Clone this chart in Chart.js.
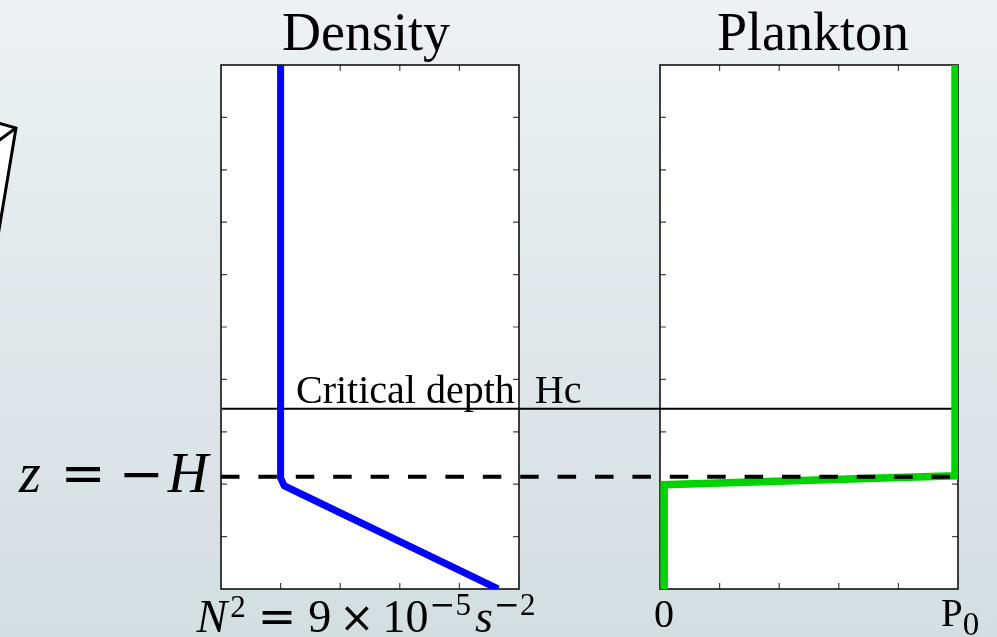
<!DOCTYPE html>
<html lang="en">
<head>
<meta charset="utf-8">
<style>
    html, body { margin: 0; padding: 0; }
    body {
        width: 997px; height: 637px; overflow: hidden;
        background: linear-gradient(#edf1f3, #d3dee1);
    }
    #wrap { position: relative; width: 997px; height: 637px; }
</style>
</head>
<body>
<div id="wrap">
    <canvas id="profiles" width="997" height="637"></canvas>
</div>

<script src="https://cdn.jsdelivr.net/npm/chart.js"></script>
<script>
    // depth axis: z in m, surface at 0
    const depthMin = -100;
    const depthMax = 0;
    const depthTicks = [-90, -80, -70, -60, -50, -40, -30, -20, -10];
    // both panels run 0..5 across with four inner ticks
    const panelMax = 5;
    const acrossTicks = [1, 2, 3, 4];

    const mixedDepth = -78.6;     // z = -H
    const criticalDepth = -65.6;  // Hc

    // stratification profile
    const densityX = [1, 1, 1.06, 4.65];
    const densityZ = [0, -78.8, -80.3, -100];

    // plankton profile
    const planktonX = [4.95, 4.95, 0.07, 0.07];
    const planktonZ = [0, -78.4, -80.1, -100];

    const panelTitles = ['Density', 'Plankton'];
    const planktonTickValues = [0, 5];
    const planktonTickText = ['0', 'P_0'];

    const serif = '"Liberation Serif", "Times New Roman", serif';
    const symbol = '"DejaVu Serif", serif';

    // panel widths in px and the gap between them
    const panelW = 298, gapW = 141;
    const span = (2 * panelW + gapW) / panelW * panelMax;
    const titleShift = [-4, 4];

    function pts(xs, zs) {
        return xs.map(function (x, i) { return {x: x, y: zs[i]}; });
    }

    function drawRuns(ctx, runs, x, y) {
        var total = 0;
        runs.forEach(function (r) {
            ctx.font = r.f;
            r.w = ctx.measureText(r.t).width;
            total += (r.pre || 0) + r.w;
        });
        var cx = x - total / 2;
        ctx.textAlign = 'left';
        runs.forEach(function (r) {
            cx += r.pre || 0;
            ctx.font = r.f;
            ctx.fillText(r.t, cx, y + (r.dy || 0));
            cx += r.w;
        });
    }

    function panels(chart) {
        return [chart.scales.xd, chart.scales.xp].map(function (sc, i) {
            return {
                left: sc.getPixelForValue(0),
                right: sc.getPixelForValue(panelMax),
                scale: sc,
                title: panelTitles[i],
                shift: titleShift[i]
            };
        });
    }

    const frames = {
        id: 'frames',
        beforeDraw: function (chart) {
            const ctx = chart.ctx;
            // piece of a sketch at the far left
            ctx.save();
            ctx.beginPath();
            ctx.moveTo(-2, 123);
            ctx.lineTo(16, 128);
            ctx.lineTo(-2, 236);
            ctx.closePath();
            ctx.fillStyle = '#ffffff';
            ctx.fill();
            ctx.strokeStyle = '#000';
            ctx.lineWidth = 3;
            ctx.lineJoin = 'miter';
            ctx.stroke();
            ctx.beginPath();
            ctx.moveTo(16, 128);
            ctx.lineTo(-2, 141);
            ctx.stroke();
            ctx.restore();
        },
        beforeDatasetsDraw: function (chart) {
            const ctx = chart.ctx;
            const y = chart.scales.y;
            const top = chart.chartArea.top, bottom = chart.chartArea.bottom;
            ctx.save();
            panels(chart).forEach(function (p) {
                ctx.fillStyle = '#ffffff';
                ctx.fillRect(p.left, top, p.right - p.left, bottom - top);

                ctx.strokeStyle = '#444';
                ctx.lineWidth = 1.2;
                ctx.beginPath();
                depthTicks.forEach(function (v) {
                    const py = y.getPixelForValue(v);
                    ctx.moveTo(p.left, py); ctx.lineTo(p.left + 6, py);
                    ctx.moveTo(p.right, py); ctx.lineTo(p.right - 6, py);
                });
                acrossTicks.forEach(function (v) {
                    const px = p.scale.getPixelForValue(v);
                    ctx.moveTo(px, top); ctx.lineTo(px, top + 6);
                    ctx.moveTo(px, bottom); ctx.lineTo(px, bottom - 6);
                });
                ctx.stroke();

                ctx.strokeStyle = '#111';
                ctx.lineWidth = 1.6;
                ctx.strokeRect(p.left, top, p.right - p.left, bottom - top);

                ctx.fillStyle = '#000';
                ctx.font = '54px ' + serif;
                ctx.textAlign = 'center';
                ctx.textBaseline = 'alphabetic';
                ctx.fillText(p.title, (p.left + p.right) / 2 + p.shift, top - 15);
            });

            // critical depth line across both panels
            const pp = panels(chart);
            const cy = y.getPixelForValue(criticalDepth);
            ctx.strokeStyle = '#000';
            ctx.lineWidth = 2.2;
            ctx.beginPath();
            ctx.moveTo(pp[0].left + 1, cy);
            ctx.lineTo(pp[1].right - 1, cy);
            ctx.stroke();
            ctx.font = '40px ' + serif;
            ctx.textAlign = 'left';
            ctx.fillText('Critical depth  Hc', pp[0].left + 75, cy - 6);
            ctx.restore();
        },
        afterDatasetsDraw: function (chart) {
            const ctx = chart.ctx;
            const y = chart.scales.y;
            const pp = panels(chart);
            const bottom = chart.chartArea.bottom;
            const hy = y.getPixelForValue(mixedDepth);
            ctx.save();

            // mixed layer base, dashed
            ctx.strokeStyle = '#000';
            ctx.lineWidth = 4;
            ctx.setLineDash([18.5, 18.9]);
            ctx.beginPath();
            ctx.moveTo(pp[0].left, hy);
            ctx.lineTo(pp[1].right, hy);
            ctx.stroke();
            ctx.setLineDash([]);

            // z = -H
            ctx.fillStyle = '#000';
            ctx.textAlign = 'center';
            ctx.textBaseline = 'alphabetic';
            const l = pp[0].left;
            ctx.font = 'italic 56px ' + serif;
            ctx.fillText('z', l - 191, hy + 15);
            ctx.fillText('H', l - 33, hy + 15);
            ctx.font = '54px ' + symbol;
            ctx.fillText('=', l - 138, hy + 15);
            ctx.fillText('\u2212', l - 80, hy + 15);

            // density axis label
            const it = 'italic 46px ' + serif, rm = '46px ' + serif;
            const sup = '31px ' + serif, supSym = '31px ' + symbol;
            drawRuns(ctx, [
                {t: 'N', f: it},
                {t: '2', f: sup, dy: -15, pre: 3},
                {t: '=', f: '46px ' + symbol, pre: 12},
                {t: '9', f: rm, pre: 12},
                {t: '\u00d7', f: '42px ' + symbol, pre: 8},
                {t: '10', f: rm, pre: 8},
                {t: '\u2212', f: supSym, dy: -17, pre: 1},
                {t: '5', f: sup, dy: -17},
                {t: 's', f: it, pre: 4},
                {t: '\u2212', f: supSym, dy: -17, pre: 1},
                {t: '2', f: sup, dy: -17}
            ], (pp[0].left + pp[0].right) / 2 - 4, bottom + 43);

            // plankton axis labels
            planktonTickValues.forEach(function (v, i) {
                const px = pp[1].scale.getPixelForValue(v);
                const parts = planktonTickText[i].split('_');
                if (parts.length === 1) {
                    ctx.font = '40px ' + serif;
                    ctx.textAlign = 'center';
                    ctx.fillText(parts[0], px + 4, bottom + 38);
                } else {
                    ctx.textAlign = 'left';
                    ctx.font = '39px ' + serif;
                    const w = ctx.measureText(parts[0]).width;
                    ctx.fillText(parts[0], px - 17, bottom + 37);
                    ctx.font = '33px ' + serif;
                    ctx.fillText(parts[1], px - 17 + w, bottom + 46);
                }
            });
            ctx.restore();
        }
    };

    const config = {
        type: 'scatter',
        data: {
            datasets: [
                {
                    label: 'Plankton',
                    data: pts(planktonX, planktonZ),
                    xAxisID: 'xp',
                    yAxisID: 'y',
                    showLine: true,
                    borderColor: '#00d400',
                    borderWidth: 7.5,
                    borderJoinStyle: 'miter',
                    pointRadius: 0,
                    clip: 0
                },
                {
                    label: 'Density',
                    data: pts(densityX, densityZ),
                    xAxisID: 'xd',
                    yAxisID: 'y',
                    showLine: true,
                    borderColor: '#0000ff',
                    borderWidth: 7,
                    borderJoinStyle: 'round',
                    pointRadius: 0,
                    clip: 0
                }
            ]
        },
        options: {
            responsive: false,
            animation: false,
            devicePixelRatio: 1,
            layout: {padding: {left: 221, right: 39, top: 65, bottom: 48}},
            plugins: {
                legend: {display: false},
                tooltip: {enabled: false},
                title: {display: false}
            },
            scales: {
                xd: {type: 'linear', display: false, min: 0, max: span},
                xp: {type: 'linear', display: false, min: panelMax - span, max: panelMax},
                y: {type: 'linear', display: false, min: depthMin, max: depthMax}
            }
        },
        plugins: [frames]
    };

    var profilesChart = new Chart(document.getElementById('profiles'), config);
</script>
</body>
</html>
